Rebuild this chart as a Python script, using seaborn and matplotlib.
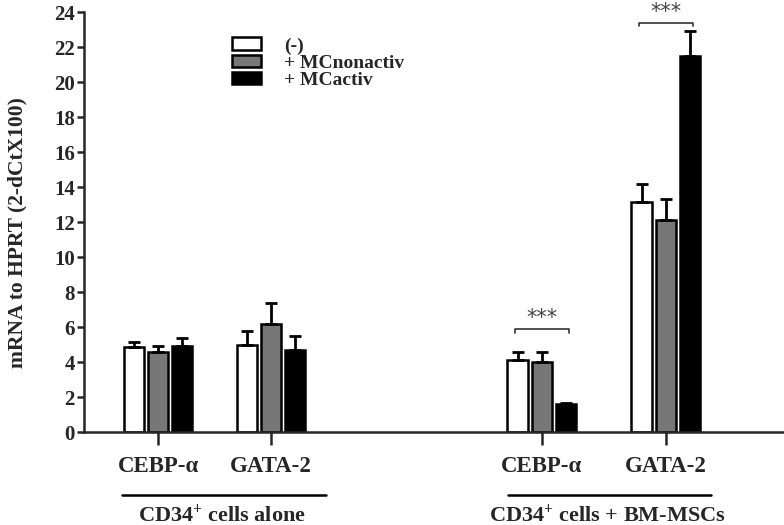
import pandas as pd
import matplotlib.pyplot as plt
import seaborn as sns

# values (mean and upper error per bar)
group_pos = [0, 1, 3.4, 4.5]
genes = ["CEBP-\u03b1", "GATA-2", "CEBP-\u03b1", "GATA-2"]
conditions = ["(-)", "+ MCnonactiv", "+ MCactiv"]
mean_ctrl = [4.85, 5.0, 4.1, 13.15]
mean_nonactiv = [4.6, 6.15, 4.0, 12.1]
mean_activ = [4.9, 4.7, 1.6, 21.5]
err_ctrl = [0.3, 0.75, 0.45, 1.05]
err_nonactiv = [0.3, 1.25, 0.6, 1.2]
err_activ = [0.5, 0.8, 0.05, 1.4]
sig_groups = [2, 3]
sig_heights = [5.9, 23.4]
group_titles = ["CD34$^{+}$ cells alone", "CD34$^{+}$ cells + BM-MSCs"]

means = [mean_ctrl, mean_nonactiv, mean_activ]
errs = [err_ctrl, err_nonactiv, err_activ]
rows = []
for c, cond in enumerate(conditions):
    for g, pos in enumerate(group_pos):
        rows.append({"pos": pos, "cond": cond, "value": means[c][g], "err": errs[c][g]})
df = pd.DataFrame(rows)

sns.set_style("ticks")
plt.rcParams["font.family"] = ["Liberation Serif", "DejaVu Serif"]
plt.rcParams["font.weight"] = "bold"
plt.rcParams["mathtext.fontset"] = "custom"
plt.rcParams["mathtext.rm"] = "Liberation Serif:bold"
plt.rcParams["mathtext.bf"] = "Liberation Serif:bold"
plt.rcParams["mathtext.default"] = "bf"

fig = plt.figure(figsize=(7.84, 5.25), dpi=100)
ax = fig.add_axes([0.107, 0.177, 0.893, 0.8])

palette = {"(-)": "white", "+ MCnonactiv": "#777777", "+ MCactiv": "black"}
sns.barplot(data=df, x="pos", y="value", hue="cond", hue_order=conditions,
            palette=palette, native_scale=True, errorbar=None, width=0.64,
            gap=0.16, edgecolor="black", linewidth=1.8, saturation=1, ax=ax)

# one-sided error bars on top of each bar
bar_containers = list(ax.containers)
centers = {}
for c, cont in enumerate(bar_containers):
    for bar in cont:
        cx = bar.get_x() + bar.get_width() / 2
        g = min(range(len(group_pos)), key=lambda i: abs(group_pos[i] - cx))
        centers[(c, g)] = cx
        ax.errorbar(cx, means[c][g], yerr=[[0], [errs[c][g]]], fmt="none",
                    ecolor="black", elinewidth=2, capsize=4.5, capthick=2, zorder=3)

# significance brackets
for g, h in zip(sig_groups, sig_heights):
    x0 = centers[(0, g)] - 0.02
    x1 = centers[(2, g)] + 0.03
    ax.plot([x0, x0, x1, x1], [h - 0.22, h, h, h - 0.22], color="#333333", lw=1.2)
    ax.text((x0 + x1) / 2, h + 0.02, "***", ha="center", va="bottom",
            fontsize=15, color="#444444", fontweight="normal", family="DejaVu Sans")

ax.set_ylim(0, 24)
ax.set_yticks(range(0, 25, 2))
ax.set_xlim(-0.66, 5.55)
ax.set_xticks(group_pos)
ax.set_xticklabels(genes)
ax.tick_params(axis="x", length=9, width=1.8, pad=8, labelsize=16.5)
ax.tick_params(axis="y", length=5, width=1.8, pad=1.5, labelsize=15)
for lab in ax.get_xticklabels() + ax.get_yticklabels():
    lab.set_fontweight("bold")
sns.despine(ax=ax)
ax.spines["left"].set_linewidth(1.8)
ax.spines["bottom"].set_linewidth(1.8)
ax.set_xlabel("")
ax.set_ylabel("mRNA to HPRT (2-dCtX100)", fontsize=15.5, fontweight="bold")
ax.yaxis.set_label_coords(-0.08, 0.476)

# group underlines and titles below the axis
tr = ax.get_xaxis_transform()
spans = [(group_pos[0] - 0.32, group_pos[1] + 0.49), (group_pos[2] - 0.3, group_pos[3] + 0.4)]
for (a, b), title in zip(spans, group_titles):
    ax.plot([a, b], [-0.151, -0.151], transform=tr, color="black", lw=1.8, clip_on=False)
    ax.text((a + b) / 2 - 0.02, -0.197, title, transform=tr, ha="center", va="center",
            fontsize=16, fontweight="bold")

handles, labels = ax.get_legend_handles_labels()
ax.legend(handles, labels, loc="upper left", bbox_to_anchor=(0.212, 0.94), frameon=False,
          prop={"weight": "bold", "size": 14}, handlelength=1.5, handleheight=0.6,
          handletextpad=1.15, labelspacing=0.0, borderpad=0, borderaxespad=0)

fig.savefig("out.png", dpi=100)
